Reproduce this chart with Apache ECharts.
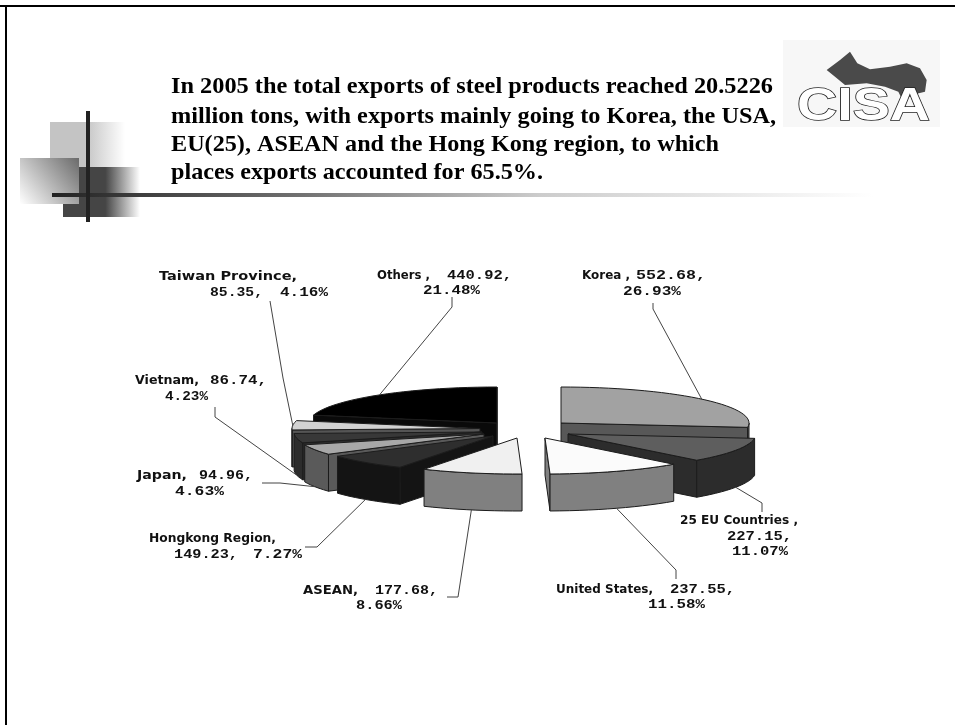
<!DOCTYPE html>
<html><head><meta charset="utf-8">
<style>html,body{margin:0;padding:0;background:#fff}#c{width:955px;height:725px}</style>
<script src="https://cdn.jsdelivr.net/npm/echarts@6/dist/echarts.min.js"></script>
</head><body><div id="c"></div>
<script>
// ---------- data ----------
const nameLabels = ['Korea ,','25 EU Countries ,','United States,','ASEAN,','Hongkong Region,','Japan,','Vietnam,','Taiwan Province,','Others ,'];
const values = [552.68,227.15,237.55,177.68,149.23,94.96,86.74,85.35,440.92];
const percents = ['26.93%','11.07%','11.58%','8.66%','7.27%','4.63%','4.23%','4.16%','21.48%'];
const titleLines = [
  'In 2005 the total exports of steel products reached 20.5226',
  'million tons, with exports mainly going to Korea, the USA,',
  'EU(25), ASEAN and the Hong Kong region, to which',
  'places exports accounted for 65.5%.'
];
const logoText = 'CISA';

// ---------- layout and style ----------
const RX = 188, RY = 36, DEPTH = 37;
const apex = [[561,423],[568,434],[545,438],[517,438],[493,436],[484,434],[482,432],[480,428.5],[497,423]];
const stack = [1,2,3,6,5,4,3,2,1];
const topCol  = ['#a2a2a2','#5e5e5e','#fbfbfb','#f0f0f0','#2e2e2e','#a8a8a8','#383838','#d2d2d2','#000000'];
const sideCol = ['#585858','#2c2c2c','#808080','#808080','#141414','#5a5a5a','#2c2c2c','#555555','#0a0a0a'];
const leaders = [
  [[653,309],[653,303]],
  [[762,503],[762,512]],
  [[676,570],[676,579]],
  [[458,597],[447,597]],
  [[317,547],[305,547]],
  [[280,483],[262,483]],
  [[215,417],[215,407]],
  [[283,378],[270,301]],
  [[452,307],[452,297]]
];
const nameBox = [[582,630,276],[680,798,521],[556,653,590],[303,358,591],[149,276,539],[137,187,476],[135,199,381],[159,297,277],[377,430,276]];
const nameSize = [12,12,12,12,12,12,12,13,12];
const valBox  = [[636,706,276],[727,792,537],[670,735,590],[375,438,591],[174,238,555],[199,253,476],[210,267,381],[210,263,293],[447,512,276]];
const pctBox  = [[623,681,292],[732,788,552],[648,705,605],[356,402,606],[253,302,555],[175,224,492],[165,208,397],[280,328,293],[423,480,291]];
const titleBox = [[171,773,87],[171,776,117],[171,719,145],[171,543,173]];
const blob = [[240,65],[262,100],[300,118],[360,110],[410,100],[450,115],[470,150],[465,185],[425,195],[400,215],[385,185],[345,170],[290,160],[225,165],[195,140],[170,120],[210,90]];

// ---------- helpers ----------
const mctx = document.createElement('canvas').getContext('2d');
function fit(text, font, box, fill, extra) {
  mctx.font = font;
  const w = mctx.measureText(text).width;
  return {
    type:'text', x:box[0], y:box[2], scaleX:(box[1]-box[0])/w, silent:true, z:10,
    style:Object.assign({text, font, fill, align:'left', verticalAlign:'middle'}, extra||{})
  };
}
const NUM_FONT = 'bold 13px "Liberation Mono"';
const total = values.reduce((a,b)=>a+b,0);
const startDeg = values.map((_,i)=>values.slice(0,i).reduce((a,b)=>a+b,0)/total*360);

function rim(c, deg, d) {
  const t = deg*Math.PI/180;
  return [c[0]+RX*Math.sin(t), c[1]-RY*Math.cos(t)+(d||0)];
}
function arc(c, a, b, d) {
  const n = Math.max(2, Math.ceil((b-a)/3)), p = [];
  for (let k=0;k<=n;k++) p.push(rim(c, a+(b-a)*k/n, d));
  return p;
}
function poly(points, fill, z2) {
  return {type:'polygon', z2, shape:{points}, style:{fill, stroke:'#1c1c1c', lineWidth:1, lineJoin:'round'}};
}
function renderSlice(params, api) {
  const i = api.value(1), v = api.value(0);
  const a = startDeg[i], b = a + v/total*360, c = apex[i], z = stack[i]*10;
  const kids = [];
  const low = p => [p[0], p[1]+DEPTH];
  const normalVisible = deg => Math.cos(deg*Math.PI/180) < 0;
  if (normalVisible(a-90)) { const r=rim(c,a); kids.push(poly([c,r,low(r),low(c)], sideCol[i], z)); }
  if (normalVisible(b+90)) { const r=rim(c,b); kids.push(poly([c,r,low(r),low(c)], sideCol[i], z)); }
  const fa = Math.max(a,90), fb = Math.min(b,270);
  if (fb > fa) {
    const up = arc(c,fa,fb,0), dn = arc(c,fa,fb,DEPTH).reverse();
    kids.push(poly(up.concat(dn), sideCol[i], z+1));
  }
  kids.push(poly([c].concat(arc(c,a,b,0)), topCol[i], z+2));
  const mid = (a+b)/2, front = Math.cos(mid*Math.PI/180) < 0;
  const start = rim(c, mid, front ? DEPTH : 0);
  kids.push({type:'polyline', z2:200, shape:{points:[start].concat(leaders[i])},
    style:{fill:null, stroke:'#444', lineWidth:1}});
  return {type:'group', children:kids};
}

// ---------- decoration ----------
const lin = (x,y,x2,y2,stops) => ({type:'linear',x,y,x2,y2,colorStops:stops.map(s=>({offset:s[0],color:s[1]}))});
const rect = (x,y,w,h,fill,z) => ({type:'rect', silent:true, z:z||1, shape:{x,y,width:w,height:h}, style:{fill}});
const logoX = 770, logoY = 30;
const graphics = [
  rect(0,5,955,2,'#000',1),
  rect(5,5,2,720,'#000',1),
  rect(50,122,75,60,lin(0,0,1,0,[[0,'#c4c4c4'],[0.47,'#c4c4c4'],[1,'#ffffff']]),2),
  rect(63,167,77,50,lin(0,0,1,0,[[0,'#454545'],[0.55,'#454545'],[1,'#ffffff']]),3),
  rect(20,158,59,46,lin(1,0,0,1,[[0,'#6a6a6a'],[1,'#ffffff']]),4),
  rect(52,193,821,4,lin(0,0,1,0,[[0,'#222222'],[0.3,'#707070'],[0.594,'#cccccc'],[1,'#ffffff']]),5),
  rect(86,111,4,111,'#222222',6),
  rect(783,40,157,87,'#f7f7f7',1),
  {type:'polygon', silent:true, z:2, shape:{points:blob.map(p=>[logoX+p[0]/3, logoY+p[1]/3])}, style:{fill:'#4a4a4a'}},
  fit(logoText,'bold 46px "Liberation Sans"',[797,930,107],'#ffffff',{stroke:'#222222',lineWidth:1.4})
];
titleLines.forEach((t,i)=>graphics.push(fit(t,'bold 24px "Liberation Serif"',titleBox[i],'#000')));
values.forEach((v,i)=>{
  graphics.push(fit(nameLabels[i], 'bold '+nameSize[i]+'px "DejaVu Sans"', nameBox[i], '#111'));
  graphics.push(fit(v.toFixed(2)+',', NUM_FONT, valBox[i], '#111'));
  graphics.push(fit(percents[i], NUM_FONT, pctBox[i], '#111'));
});

const chart = echarts.init(document.getElementById('c'), null, {renderer:'canvas'});
chart.setOption({
  animation:false,
  backgroundColor:'#fff',
  graphic:{elements:graphics},
  series:[{
    type:'custom', coordinateSystem:'none', silent:true,
    renderItem:renderSlice,
    encode:{value:0},
    data:values.map((v,i)=>[v,i])
  }]
});
</script></body></html>
